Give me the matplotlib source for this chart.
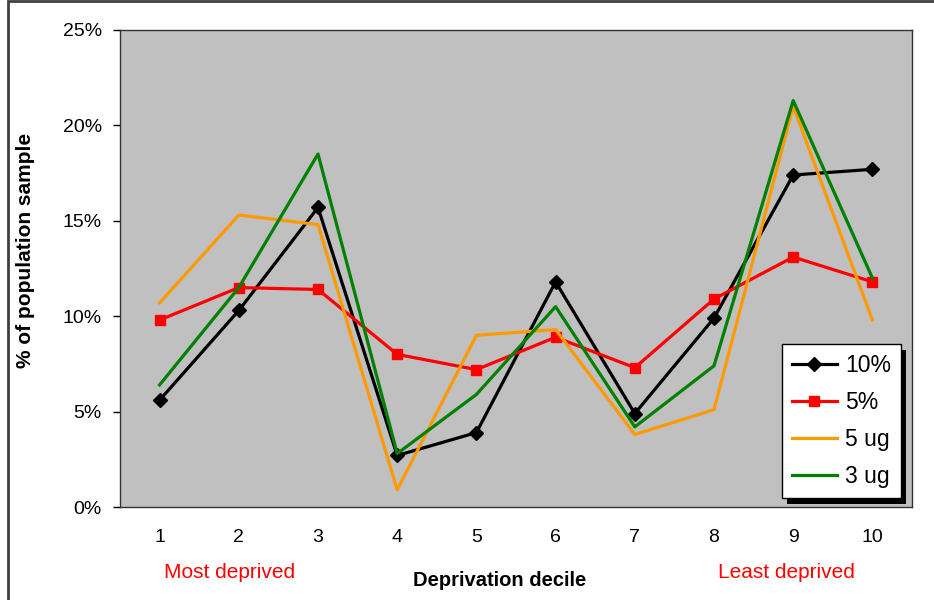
import matplotlib.pyplot as plt
from matplotlib.patches import Rectangle
from matplotlib.ticker import FuncFormatter

deciles = [1, 2, 3, 4, 5, 6, 7, 8, 9, 10]
s_10pct = [5.6, 10.3, 15.7, 2.7, 3.9, 11.8, 4.9, 9.9, 17.4, 17.7]
s_5pct = [9.8, 11.5, 11.4, 8.0, 7.2, 8.9, 7.3, 10.9, 13.1, 11.8]
s_5ug = [10.7, 15.3, 14.8, 0.9, 9.0, 9.3, 3.8, 5.1, 21.0, 9.8]
s_3ug = [6.4, 11.5, 18.5, 2.8, 5.9, 10.5, 4.2, 7.4, 21.3, 12.0]
labels = ['10%', '5%', '5 ug', '3 ug']

plt.rcParams['font.family'] = ['Liberation Sans', 'DejaVu Sans']

fig = plt.figure(figsize=(9.34, 6), dpi=100)
ax = fig.add_axes([120/934, 93/600, 792/934, 477/600])
ax.set_facecolor('#C0C0C0')

ax.plot(deciles, s_10pct, color='black', lw=2.3, marker='D', ms=7, label=labels[0])
ax.plot(deciles, s_5pct, color='#FF0000', lw=2.3, marker='s', ms=7, label=labels[1])
ax.plot(deciles, s_5ug, color='#FF9900', lw=2.3, label=labels[2])
ax.plot(deciles, s_3ug, color='#008000', lw=2.3, label=labels[3])

ax.set_xlim(0.5, 10.5)
ax.set_ylim(0, 25)
ax.set_yticks([0, 5, 10, 15, 20, 25])
ax.yaxis.set_major_formatter(FuncFormatter(lambda v, p: f'{v:.0f}%'))
ax.set_xticks(deciles)
ax.tick_params(axis='x', length=0, pad=16, labelsize=14)
ax.tick_params(axis='y', length=5, width=1, pad=8, labelsize=14)
for s in ax.spines.values():
    s.set_color('#333333')
    s.set_linewidth(1)

ax.set_ylabel('% of population sample', fontsize=15, fontweight='bold')
ax.yaxis.set_label_coords((35 - 120) / 792, (507 - 250) / 477)

fig.text(500/934, 1 - 581/600, 'Deprivation decile', ha='center', va='center',
         fontsize=14.5, fontweight='bold')
fig.text(230/934, 1 - 572/600, 'Most deprived', ha='center', va='center',
         fontsize=15, color='#FF0000')
fig.text(786/934, 1 - 572/600, 'Least deprived', ha='center', va='center',
         fontsize=15, color='#FF0000')

leg = ax.legend(loc='lower right', bbox_to_anchor=(1 - 11/792, 9/477), fontsize=16.5,
                frameon=True, fancybox=False, framealpha=1,
                handlelength=2.0, labelspacing=0.62, borderpad=0.42, handletextpad=0.35,
                borderaxespad=0)
leg.get_frame().set_edgecolor('black')
leg.get_frame().set_linewidth(1)

# offset shadow behind the legend box
fig.canvas.draw()
bb = leg.get_window_extent().transformed(ax.transAxes.inverted())
dx, dy = 5 / 792, 6 / 477
ax.add_patch(Rectangle((bb.x0 + dx, bb.y0 - dy), bb.width, bb.height, transform=ax.transAxes,
                       facecolor='black', edgecolor='none', zorder=4.9, clip_on=False))

fig.add_artist(Rectangle((8/934, -0.1), 1.2, 1.1 - 1.5/600, fill=False,
                         edgecolor='#404040', lw=2, transform=fig.transFigure))

fig.savefig('out.png', dpi=100)
